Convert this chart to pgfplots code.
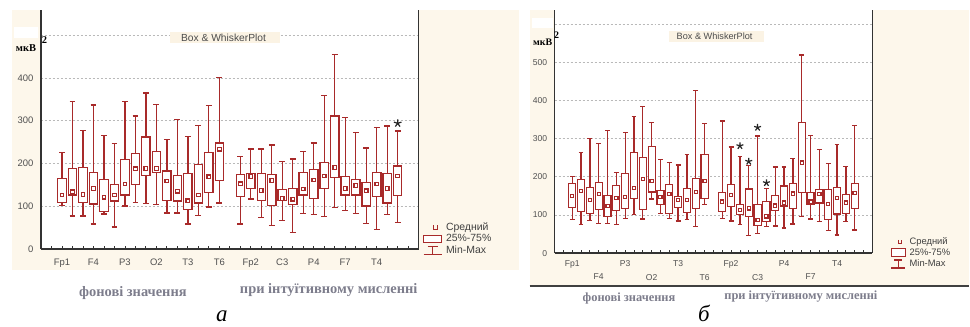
\documentclass[border=0pt]{standalone}
\usepackage{fontspec}
\setmainfont{Liberation Sans}
\newfontfamily\capserif{Liberation Serif}
\usepackage{pgfplots}
\pgfplotsset{compat=1.18}
\usepgfplotslibrary{statistics}

\definecolor{boxred}{RGB}{168,42,42}
\definecolor{cream}{RGB}{253,247,235}
\definecolor{gridgray}{RGB}{185,185,185}
\definecolor{labgray}{RGB}{80,80,80}
\definecolor{capgray}{RGB}{125,125,140}
\definecolor{titlebg}{RGB}{251,243,228}

% one box: position, min, 25%, mean, 75%, max
\newcommand\bx[6]{\addplot[forget plot, boxred, boxplot prepared={draw position=#1,
  lower whisker=#2, lower quartile=#3, median=#4, upper quartile=#5, upper whisker=#6}] coordinates {};}

\pgfplotsset{
  bw/.style={
    scale only axis, clip=false,
    axis x line*=bottom, axis y line*=left,
    axis line style={-, draw=black!80, line width=1.6bp},
    axis background/.style={fill=white},
    xmin=-1, xmax=35, ymin=0,
    ymajorgrids, grid style={gridgray, dash pattern=on 2bp off 2bp, line width=0.6bp},
    ytick style={draw=none},
    minor xtick={0,...,34},
    tick align=inside,
    major tick length=3bp, minor tick length=3bp,
    xtick style={black!80, line width=0.8bp},
    /pgf/number format/assume math mode=true,
    yticklabel style={labgray, xshift=-4bp},
    xticklabel style={labgray},
    boxplot/draw direction=y,
    boxplot/box extend=0.8,
    boxplot/whisker extend=0.55,
    boxplot/every box/.style={draw=boxred, fill=white, line width=1.2bp},
    boxplot/every whisker/.style={draw=boxred, line width=1.3bp},
    boxplot/every median/.style={draw=none},
    legend cell align=left,
  },
  meanmk/.style={forget plot, only marks, mark=square, mark size=1.8bp, boxred, line width=1.2bp},
  starmk/.style={forget plot, only marks, mark=star, mark size=4bp, black!85, line width=1.2bp},
}

\begin{document}
\begin{tikzpicture}
\fill[white] (0,0) rectangle (970bp,327bp);
\fill[cream] (12bp,57bp) rectangle (519bp,317bp);
\fill[cream] (530bp,41bp) rectangle (970bp,317bp);
\draw[black!75, line width=1.5bp] (530bp,41bp) -- (970bp,41bp);

% ---------------- panel a ----------------
\begin{axis}[bw, at={(41bp,78bp)}, width=378bp, height=239bp, ymax=559,
  ytick={0,100,...,500}, yticklabels={0,100,200,300,400,{}},
  xtick={1,4,...,31}, xticklabels={Fp1,F4,P3,O2,T3,T6,Fp2,C3,P4,F7,T4},
  tick label style={font=\fontsize{9.5}{11}\selectfont},
  xticklabel style={yshift=-7bp},
  legend style={at={(1.011,0.112)}, anchor=north west, draw=none, fill=none,
    inner sep=0pt, row sep=2bp, font=\fontsize{10.5}{11}\selectfont\color{black!75},
    nodes={inner sep=0.3bp},
    /tikz/every odd column/.append style={column sep=3.5bp}},
]
\addlegendimage{legend image code/.code={\path[draw=none, fill=none] (0bp,-4.5bp) rectangle (18bp,4.5bp);
  \draw[boxred, line width=1.1bp] (10bp,2bp) -- (10bp,-2bp) -- (14bp,-2bp) -- (14bp,2bp);}}
\addlegendentry{Средний}
\addlegendimage{legend image code/.code={\path[draw=none, fill=none] (0bp,-4.5bp) rectangle (18bp,4.5bp);
  \draw[boxred, line width=1.1bp, fill=white] (0bp,-3.5bp) rectangle (18bp,3.5bp);}}
\addlegendentry{25\%-75\%}
\addlegendimage{legend image code/.code={\path[draw=none, fill=none] (0bp,-4.5bp) rectangle (18bp,4.5bp);
  \draw[boxred, line width=1.2bp] (4bp,4bp) -- (14bp,4bp) (9bp,4bp) -- (9bp,-4bp) (0bp,-4bp) -- (18bp,-4bp);}}
\addlegendentry{Min-Max}

\bx{1}{100.8}{108.6}{125.8}{164.8}{225.8}
\bx{2}{76.6}{125.8}{133.6}{188}{344.5}
\bx{3}{76.6}{108.6}{127}{190}{277}
\bx{4}{57.8}{104.7}{141}{178}{336.7}
\bx{5}{81.3}{87.5}{121}{162.5}{264.8}
\bx{6}{50.8}{111.7}{125.8}{150.8}{246}
\bx{7}{100}{125.8}{151.6}{208.6}{344.5}
\bx{8}{108.6}{150.8}{187.5}{223.4}{311}
\bx{9}{105.5}{171.9}{188}{261.7}{364.8}
\bx{10}{103}{178}{188}{228}{337.5}
\bx{11}{83.6}{114}{158.6}{182}{256}
\bx{12}{83.6}{111.7}{135}{172}{303}
\bx{13}{57.8}{91.4}{112.5}{175.8}{263}
\bx{14}{78}{107}{125.8}{197.7}{289}
\bx{15}{97.7}{131}{168.7}{225}{335}
\bx{16}{107}{159.4}{233}{247.7}{401.6}
\bx{18}{57.8}{121.9}{152.3}{174}{215.6}
\bx{19}{116.4}{142}{169.5}{175.8}{233.6}
\bx{20}{73.4}{114}{136.7}{175.8}{233.6}
\bx{21}{54}{101.6}{160}{174}{243}
\bx{22}{65.6}{114}{118}{139}{204.7}
\bx{23}{38.3}{103}{116}{140.6}{210}
\bx{24}{82}{125.8}{140}{178}{227}
\bx{25}{80.5}{118}{161}{186}{248}
\bx{26}{75.8}{141.4}{170.3}{201.6}{358.6}
\bx{27}{96.9}{167}{190}{311}{455.5}
\bx{28}{89.8}{125.8}{141.4}{168.8}{307}
\bx{29}{82}{125.8}{148}{162.5}{272}
\bx{30}{58.6}{100}{136}{154.7}{236}
\bx{31}{46}{121.9}{151.6}{178}{283.6}
\bx{32}{80.5}{107}{141.4}{176.6}{287.5}
\bx{33}{61.7}{124}{170.3}{193.7}{275.8}
\addplot[meanmk] coordinates {
  (1,125.8) (2,133.6) (3,127) (4,141) (5,121) (6,125.8) (7,151.6) (8,187.5)
  (9,188) (10,188) (11,158.6) (12,135) (13,112.5) (14,125.8) (15,168.7) (16,233)
  (18,152.3) (19,169.5) (20,136.7) (21,160) (22,118) (23,116) (24,140) (25,161)
  (26,170.3) (27,190) (28,141.4) (29,148) (30,136) (31,151.6) (32,141.4) (33,170.3)};
\addplot[starmk] coordinates {(33,293.7)};
\draw[black!80, line width=1.5bp] (rel axis cs:1,0) -- (rel axis cs:1,1);
\end{axis}

% ---------------- panel b ----------------
\begin{axis}[bw, at={(555bp,73.7bp)}, width=318bp, height=243.3bp, ymax=637,
  ytick={0,100,...,600}, yticklabels={0,100,200,300,400,500,{}},
  xtick={1,7,13,19,25,31}, xticklabels={Fp1,P3,T3,Fp2,P4,T4},
  extra x ticks={4,10,16,22,28}, extra x tick labels={F4,O2,T6,C3,F7},
  extra x tick style={tick label style={yshift=-14bp}},
  tick label style={font=\fontsize{8.6}{10}\selectfont},
  xticklabel style={yshift=-3.5bp},
  legend style={at={(1.057,0.066)}, anchor=north west, draw=none, fill=none,
    inner sep=0pt, row sep=2bp, font=\fontsize{9.4}{10}\selectfont\color{black!75},
    nodes={inner sep=0.3bp},
    /tikz/every odd column/.append style={column sep=3.5bp}},
]
\addlegendimage{legend image code/.code={\path[draw=none, fill=none] (0bp,-4.5bp) rectangle (14bp,4.5bp);
  \draw[boxred, line width=1.1bp] (7bp,2bp) -- (7bp,-2bp) -- (10.5bp,-2bp) -- (10.5bp,2bp);}}
\addlegendentry{Средний}
\addlegendimage{legend image code/.code={\path[draw=none, fill=none] (0bp,-4.5bp) rectangle (14bp,4.5bp);
  \draw[boxred, line width=1.1bp, fill=white] (0bp,-4bp) rectangle (14bp,4bp);}}
\addlegendentry{25\%-75\%}
\addlegendimage{legend image code/.code={\path[draw=none, fill=none] (0bp,-4.5bp) rectangle (14bp,4.5bp);
  \draw[boxred, line width=1.2bp] (3bp,4bp) -- (11bp,4bp) (7bp,4bp) -- (7bp,-4bp) (0bp,-4bp) -- (14bp,-4bp);}}
\addlegendentry{Min-Max}

\bx{1}{87.3}{120.5}{150}{183.4}{200}
\bx{2}{75}{110}{163.3}{192}{263.8}
\bx{3}{84.7}{103}{139}{172}{300}
\bx{4}{76.9}{113.5}{155}{185}{287}
\bx{5}{76.9}{96}{124}{150}{321}
\bx{6}{75}{111.8}{144}{176.4}{210.5}
\bx{7}{90.8}{116}{147.6}{207.9}{316}
\bx{8}{101}{143}{170}{263.8}{357}
\bx{9}{89}{113.5}{194}{250.7}{383.4}
\bx{10}{141.5}{160}{189.5}{280}{342}
\bx{11}{103}{127.5}{146.7}{165}{245.4}
\bx{12}{90.8}{104.8}{154.6}{180}{236.7}
\bx{13}{83.8}{120.5}{139}{148.5}{230.6}
\bx{14}{87.3}{105.7}{139}{169.4}{257.6}
\bx{15}{69.9}{117}{159.8}{195.6}{426.2}
\bx{16}{127.5}{143.2}{188.6}{257.6}{339.7}
\bx{18}{90.8}{109}{135}{158}{345.9}
\bx{19}{83.8}{122}{152}{179}{277.7}
\bx{20}{75}{101.3}{113.5}{127.5}{252.4}
\bx{21}{47}{95}{117}{167.7}{228.8}
\bx{22}{52}{71.5}{87}{127}{307}
\bx{23}{70}{82}{96}{135}{169}
\bx{24}{71.2}{112.2}{124.5}{151.5}{225.8}
\bx{25}{66}{123.6}{132.3}{176}{225.8}
\bx{26}{76.4}{116.6}{156}{183}{248.5}
\bx{27}{95.6}{159.4}{237}{342.8}{519}
\bx{28}{89.5}{127}{135}{159.4}{308}
\bx{29}{83.4}{131.4}{155}{166.4}{272}
\bx{30}{59}{87}{129}{166.4}{234.5}
\bx{31}{47.6}{102.6}{143.7}{171.6}{285}
\bx{32}{83.4}{103.5}{132.3}{153.3}{227.5}
\bx{33}{60.7}{116.6}{157}{183}{334}
\addplot[meanmk, mark size=1.6bp] coordinates {
  (1,150) (2,163.3) (3,139) (4,155) (5,124) (6,144) (7,147.6) (8,170)
  (9,194) (10,189.5) (11,146.7) (12,154.6) (13,139) (14,139) (15,159.8) (16,188.6)
  (18,135) (19,152) (20,113.5) (21,117) (22,87) (23,96) (24,124.5) (25,132.3)
  (26,156) (27,237) (28,135) (29,155) (30,129) (31,143.7) (32,132.3) (33,157)};
\addplot[starmk, mark size=3.6bp] coordinates {(20,281) (21,240) (22,329) (23,184)};
\draw[black!80, line width=1.5bp] (rel axis cs:1,0) -- (rel axis cs:1,1);
\end{axis}

% unit labels and plot titles
\fill[white] (14bp,289bp) rectangle (38bp,300bp);
\node[font=\capserif\bfseries\fontsize{10.5}{12}\selectfont, inner sep=0pt] at (26bp,279bp) {мкВ};
\node[font=\capserif\bfseries\fontsize{10.5}{12}\selectfont, inner sep=0pt] at (44.5bp,287bp) {2};
\fill[titlebg] (170bp,284bp) rectangle (280bp,295bp);
\node[anchor=west, inner sep=0pt, font=\fontsize{10.3}{11}\selectfont, text=black!70] at (181bp,289.5bp) {Box \& WhiskerPlot};

\fill[white] (532bp,299bp) rectangle (553bp,309bp);
\node[font=\capserif\bfseries\fontsize{10}{12}\selectfont, inner sep=0pt] at (543bp,285bp) {мкВ};
\node[font=\capserif\bfseries\fontsize{10}{12}\selectfont, inner sep=0pt] at (557bp,292bp) {2};
\fill[titlebg] (670bp,285bp) rectangle (765bp,295.5bp);
\node[anchor=west, inner sep=0pt, font=\fontsize{9.2}{10}\selectfont, text=black!70] at (677bp,290.3bp) {Box \& WhiskerPlot};

% captions under the panels
\node[font=\capserif\bfseries\fontsize{14.5}{16}\selectfont, text=capgray, inner sep=0pt] at (133bp,34bp) {фонові значення};
\node[font=\capserif\bfseries\fontsize{14.5}{16}\selectfont, text=capgray, inner sep=0pt] at (329bp,37bp) {при інтуїтивному мисленні};
\node[font=\capserif\bfseries\fontsize{12.5}{14}\selectfont, text=capgray, inner sep=0pt] at (629.5bp,28bp) {фонові значення};
\node[font=\capserif\bfseries\fontsize{12.5}{14}\selectfont, text=capgray, inner sep=0pt] at (801.5bp,30bp) {при інтуїтивному мисленні};
\node[font=\capserif\itshape\fontsize{23}{25}\selectfont, anchor=base, inner sep=0pt] at (222bp,5bp) {а};
\node[font=\capserif\itshape\fontsize{23}{25}\selectfont, anchor=base, inner sep=0pt] at (704.5bp,5bp) {б};
\end{tikzpicture}
\end{document}
